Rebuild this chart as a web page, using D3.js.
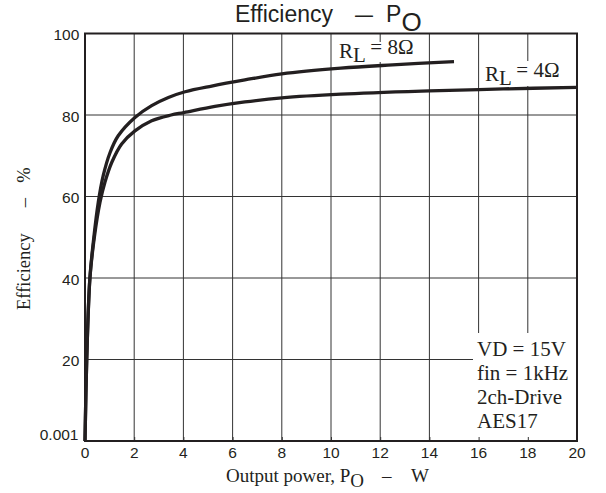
<!DOCTYPE html>
<html><head><meta charset="utf-8">
<script src="https://cdn.jsdelivr.net/npm/d3@7"></script>
<style>body{margin:0;background:#fff} text{white-space:pre}</style>
</head><body>
<svg id="c" width="606" height="493"></svg>
<script>
const xTicks = [0,2,4,6,8,10,12,14,16,18,20];
const yTicks = [20,40,60,80,100];
const yBottomLabel = "0.001";
const p8 = [0, 0.07, 0.2, 0.36, 0.54, 0.74, 1.02, 1.35, 2.03, 2.71, 3.39, 4.07, 5.15, 6.5, 8.0, 10.4, 12.5, 15];
const e8 = [0, 20, 40, 50, 58.6, 65.1, 70.8, 74.9, 79.4, 82.3, 84.3, 85.7, 87.1, 88.6, 90.1, 91.5, 92.3, 93.1];
const p4 = [0, 0.07, 0.2, 0.38, 0.61, 0.81, 1.09, 1.49, 2.03, 2.71, 3.5, 4.02, 5.28, 6.5, 8.0, 10.4, 14, 17, 20];
const e4 = [0, 20, 40, 50, 58.6, 63.5, 68.4, 72.9, 76.1, 78.6, 80.0, 80.6, 82.1, 83.2, 84.2, 85.1, 85.9, 86.4, 86.8];
const legendLines = ["VD = 15V", "fin = 1kHz", "2ch-Drive", "AES17"];

const svg = d3.select("#c");
const L = 85, R = 577, T = 33.5, B = 441;
const x = d3.scaleLinear().domain([0,20]).range([L,R]);
const y = d3.scaleLinear().domain([0,100]).range([B,T]);
const ink = "#231f20";
const sans = "'Liberation Sans', Arial, sans-serif";
const serif = "'Liberation Serif', 'Times New Roman', serif";

// grid
const g = svg.append("g");
g.selectAll("line.v").data(xTicks.slice(1,-1)).join("line")
  .attr("x1", d=>x(d)).attr("x2", d=>x(d)).attr("y1", T).attr("y2", B)
  .attr("stroke", "#333").attr("stroke-width", 1);
g.selectAll("line.h").data(yTicks.slice(0,-1)).join("line")
  .attr("x1", L).attr("x2", R).attr("y1", d=>y(d)).attr("y2", d=>y(d))
  .attr("stroke", "#333").attr("stroke-width", 1);

// white boxes
svg.append("rect").attr("x", 473).attr("y", 333).attr("width", R-473).attr("height", B-333).attr("fill", "#fff");
svg.append("rect").attr("x", 333).attr("y", 42).attr("width", 94).attr("height", 20).attr("fill", "#fff");
svg.append("rect").attr("x", 481).attr("y", 61).attr("width", R-481).attr("height", 25).attr("fill", "#fff");

// small inward ticks at bottom
svg.append("g").attr("transform", `translate(0,${B})`)
  .call(d3.axisBottom(x).tickValues(xTicks).tickSize(-4).tickFormat(""))
  .call(a => a.select(".domain").remove())
  .selectAll("line").attr("stroke", "#333");

// frame
svg.append("rect").attr("x", L).attr("y", T).attr("width", R-L).attr("height", B-T)
  .attr("fill", "none").attr("stroke", ink).attr("stroke-width", 2);

// curves
const line = d3.line().x(d=>x(d[0])).y(d=>y(d[1])).curve(d3.curveCatmullRom.alpha(0.5));
svg.append("path").attr("d", line(p8.map((p,i)=>[p,e8[i]])))
  .attr("fill","none").attr("stroke", ink).attr("stroke-width", 3.3);
svg.append("path").attr("d", line(p4.map((p,i)=>[p,e4[i]])))
  .attr("fill","none").attr("stroke", ink).attr("stroke-width", 3.3);

// x tick labels
svg.append("g").selectAll("text").data(xTicks).join("text")
  .attr("x", d=>x(d)).attr("y", 457.5).attr("text-anchor","middle")
  .attr("font-family", sans).attr("font-size", 15.5).attr("fill", ink).text(d=>d);
// y tick labels
svg.append("g").selectAll("text").data(yTicks).join("text")
  .attr("x", 79.3).attr("y", d=>y(d)+6.5).attr("text-anchor","end")
  .attr("font-family", sans).attr("font-size", 15.5).attr("fill", ink).text(d=>d);
svg.append("text").attr("x", 78.5).attr("y", 440).attr("text-anchor","end")
  .attr("font-family", sans).attr("font-size", 15.5).attr("fill", ink).text(yBottomLabel);

// title
const tAttr = s => s.attr("font-family", sans).attr("fill", ink);
svg.append("text").attr("x", 235).attr("y", 21.7).attr("font-size", 23).call(tAttr).text("Efficiency");
svg.append("text").attr("x", 355).attr("y", 21.7).attr("font-size", 23).call(tAttr)
  .attr("textLength", 18).attr("lengthAdjust", "spacingAndGlyphs").text("–");
svg.append("text").attr("x", 386).attr("y", 21.7).attr("font-size", 23).call(tAttr).text("P");
svg.append("text").attr("x", 401.5).attr("y", 31.3).attr("font-size", 26).call(tAttr).text("O");

// x axis title
const xA = s => s.attr("font-family", serif).attr("font-size", 19).attr("fill", ink);
const xt = svg.append("text").attr("x", 226).attr("y", 482).call(xA);
xt.append("tspan").text("Output power, P");
xt.append("tspan").attr("dy", 5).text("O");
svg.append("text").attr("x", 382).attr("y", 482).call(xA).text("–");
svg.append("text").attr("x", 411).attr("y", 482).call(xA).text("W");

// y axis title
const yT = (txt, yy, anchor) => svg.append("text").attr("transform", `translate(30,${yy}) rotate(-90)`)
  .attr("text-anchor", anchor).attr("font-family", serif).attr("font-size", 18.5).attr("fill", ink).text(txt);
yT("Efficiency", 310, "start");
yT("–", 202.5, "middle");
yT("%", 175, "middle");

// series labels
function rl(xp, yp, ohm){
  const s = svg.append("text").attr("x", xp).attr("y", yp)
    .attr("font-family", serif).attr("font-size", 21).attr("fill", ink);
  s.append("tspan").attr("dy", 4).text("R");
  s.append("tspan").attr("dy", 4).text("L");
  s.append("tspan").attr("dy", -8).text(" = " + ohm);
}
rl(339, 54.2, "8Ω");
rl(485, 77, "4Ω");

// legend text
svg.append("g").selectAll("text").data(legendLines).join("text")
  .attr("x", 477).attr("y", (d,i)=>356 + i*24)
  .attr("font-family", serif).attr("font-size", 21).attr("fill", ink).text(d=>d);
</script>
</body></html>
